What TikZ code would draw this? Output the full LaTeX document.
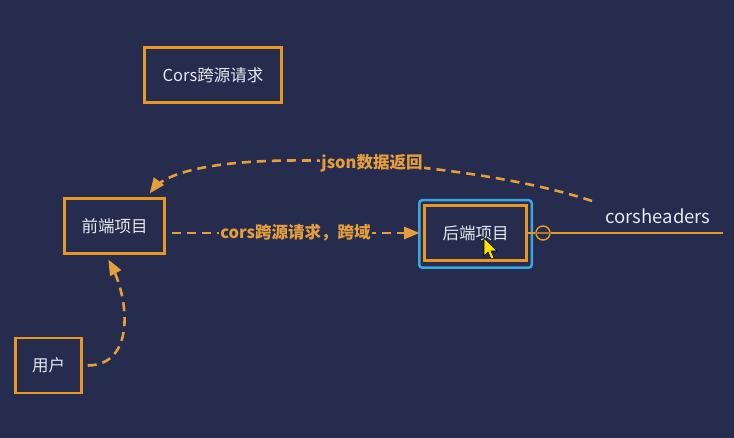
\documentclass[tikz,border=0pt]{standalone}
\usepackage{fontspec}
\setmainfont{Noto Sans CJK SC}
\usetikzlibrary{arrows, positioning}

\definecolor{navy}{RGB}{38,44,78}
\definecolor{boxorange}{RGB}{232,150,36}
\definecolor{labelorange}{RGB}{230,158,58}
\definecolor{textwhite}{RGB}{230,232,240}
\definecolor{selectblue}{RGB}{58,168,222}

\begin{document}
\begin{tikzpicture}[x=1pt, y=-1pt]
    \tikzstyle{box} = [rectangle, draw=boxorange, line width=2.5pt, text=textwhite, font=\fontsize{16.5}{20}\selectfont, inner sep=0pt, minimum height=55pt]
    \tikzstyle{arrow} = [line width=2.6pt, draw=labelorange, dash pattern=on 9pt off 6pt, ->, >=triangle 45]
    \tikzstyle{edgelabel} = [fill=navy, text=labelorange, font=\bfseries\fontsize{16.5}{20}\selectfont, inner sep=1pt]

    \fill[navy] (0,0) rectangle (734,438);
    \useasboundingbox (0,0) rectangle (734,438);

    \node (cors) [box, minimum width=137pt] at (213,75) {Cors跨源请求};
    \node (frontend) [box, minimum width=100pt] at (114.5,226) {前端项目};
    \node (user) [box, minimum width=66pt] at (48.5,365.5) {用户};
    \node (backend) [box, minimum width=102pt] at (475.5,233) {后端项目};
    \draw[selectblue, line width=2.5pt, rounded corners=3pt] ([xshift=-4pt,yshift=4pt]backend.north west) rectangle ([xshift=4pt,yshift=-6pt]backend.south east);

    % corsheaders plug
    \node (joint) [circle, draw=boxorange, line width=1.5pt, minimum size=14pt, inner sep=0pt] at (543,233) {};
    \coordinate (tail) at (723,233);
    \draw[boxorange, line width=2pt] (backend.east) -- (joint.west);
    \draw[boxorange!70!navy, line width=2pt] (joint.west) -- (joint.east);
    \draw[boxorange, line width=2pt] (joint.east) -- (tail);
    \node (headers) [text=textwhite, font=\fontsize{18.5}{22}\selectfont] at (658,216) {corsheaders};
    \coordinate (reply) at (592,201);

    \draw [arrow] ([xshift=6pt]frontend.east |- backend.west) -- node[edgelabel] {cors跨源请求，跨域} ([xshift=-4pt]backend.west);
    \draw [arrow] (reply) .. controls (470,160) and (190,140) .. ([xshift=-16pt,yshift=4pt]frontend.north east);
    \node (jsonlabel) [edgelabel] at (372,163) {json数据返回};
    \draw [arrow] ([xshift=5pt]user.east) .. controls (135,365) and (130,300) .. ([xshift=-6pt,yshift=-5pt]frontend.south);

    % mouse pointer
    \draw[black, line width=0.6pt, fill=yellow!85!orange] (484,238) -- (484,256) -- (488,252) -- (491,259) -- (494,258) -- (491,251) -- (497,251) -- cycle;
\end{tikzpicture}
\end{document}
